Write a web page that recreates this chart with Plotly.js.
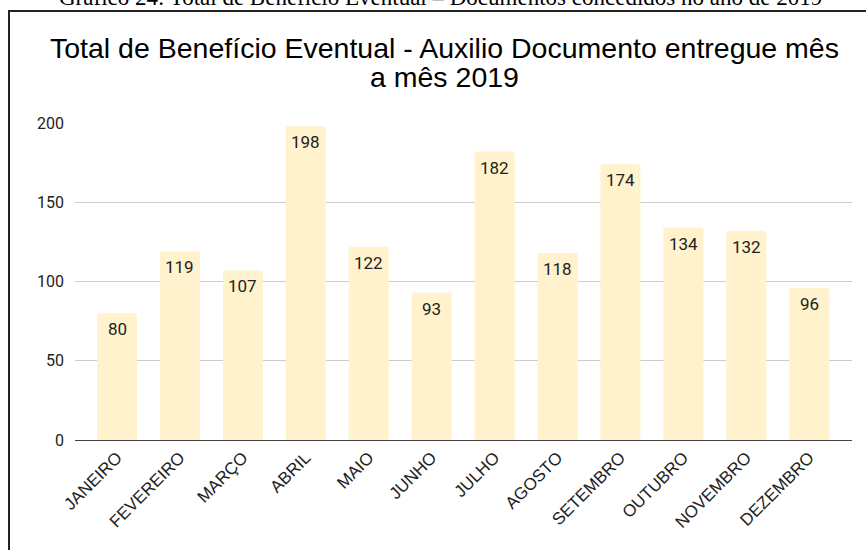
<!DOCTYPE html>
<html>
<head>
<meta charset="utf-8">
<script src="https://cdn.plot.ly/plotly-3.0.1.min.js"></script>
<style>
  body { margin: 0; background: #fff; }
  #chart { width: 866px; height: 550px; }
</style>
</head>
<body>
<div id="chart"></div>
<script>
// dados
var meses = ['JANEIRO', 'FEVEREIRO', 'MARÇO', 'ABRIL', 'MAIO', 'JUNHO',
             'JULHO', 'AGOSTO', 'SETEMBRO', 'OUTUBRO', 'NOVEMBRO', 'DEZEMBRO'];
var entregues = [80, 119, 107, 198, 122, 93, 182, 118, 174, 134, 132, 96];
var yTicks = [0, 50, 100, 150, 200];
var tituloLinhas = ['Total de Benefício Eventual - Auxilio Documento entregue mês', 'a mês 2019'];

var trace = {
  x: meses,
  y: entregues,
  type: 'bar',
  marker: { color: '#fff2cc', cornerradius: 2 },
  hoverinfo: 'x+y'
};

// rotulos das barras (um pouco abaixo do topo)
var rotulos = meses.map(function (m, i) {
  return {
    x: m, y: entregues[i], xref: 'x', yref: 'y',
    text: String(entregues[i]),
    showarrow: false, yshift: -16, yanchor: 'middle',
    font: { family: 'Roboto', size: 17, color: '#222' }
  };
});

// titulo, duas linhas mais juntas que o padrao
tituloLinhas.forEach(function (t, i) {
  rotulos.push({
    text: t,
    xref: 'paper', yref: 'paper',
    x: 0.475, y: 1, yshift: 93 - i * 29,
    xanchor: 'center', yanchor: 'top',
    showarrow: false,
    font: { family: 'Liberation Sans', size: 28.5, color: '#000' }
  });
});

// legenda do documento, cortada no topo
rotulos.push({
  text: 'Gráfico 24: Total de Benefício Eventual – Documentos concedidos no ano de 2019',
  xref: 'paper', yref: 'paper',
  x: 0.47, y: 1, yshift: 111,
  xanchor: 'center', yanchor: 'bottom',
  showarrow: false,
  font: { family: 'Liberation Serif', size: 23, color: '#000' }
});

var layout = {
  width: 866,
  height: 550,
  margin: { l: 75, r: 14, t: 123, b: 110 },
  paper_bgcolor: '#fff',
  plot_bgcolor: '#fff',
  showlegend: false,
  bargap: 0.364,
  xaxis: {
    range: [-0.668, 11.68],
    tickangle: -45,
    tickfont: { family: 'Liberation Sans', size: 17, color: '#222' },
    showgrid: false,
    ticks: '',
    showline: true,
    linecolor: '#444',
    linewidth: 1
  },
  yaxis: {
    range: [0, 200],
    tickvals: yTicks,
    tickfont: { family: 'Roboto', size: 16, color: '#222' },
    gridcolor: '#ccc',
    zeroline: false,
    ticks: '',
    ticklabelstandoff: 10
  },
  annotations: rotulos,
  shapes: [{
    type: 'rect',
    xref: 'paper', yref: 'paper',
    x0: -66 / 777, x1: 1.05,
    y0: -0.5, y1: 1 + 112 / 317,
    line: { color: '#222', width: 2 },
    fillcolor: 'rgba(0,0,0,0)'
  }]
};

Plotly.newPlot('chart', [trace], layout, { displayModeBar: false, staticPlot: true });
</script>
</body>
</html>
